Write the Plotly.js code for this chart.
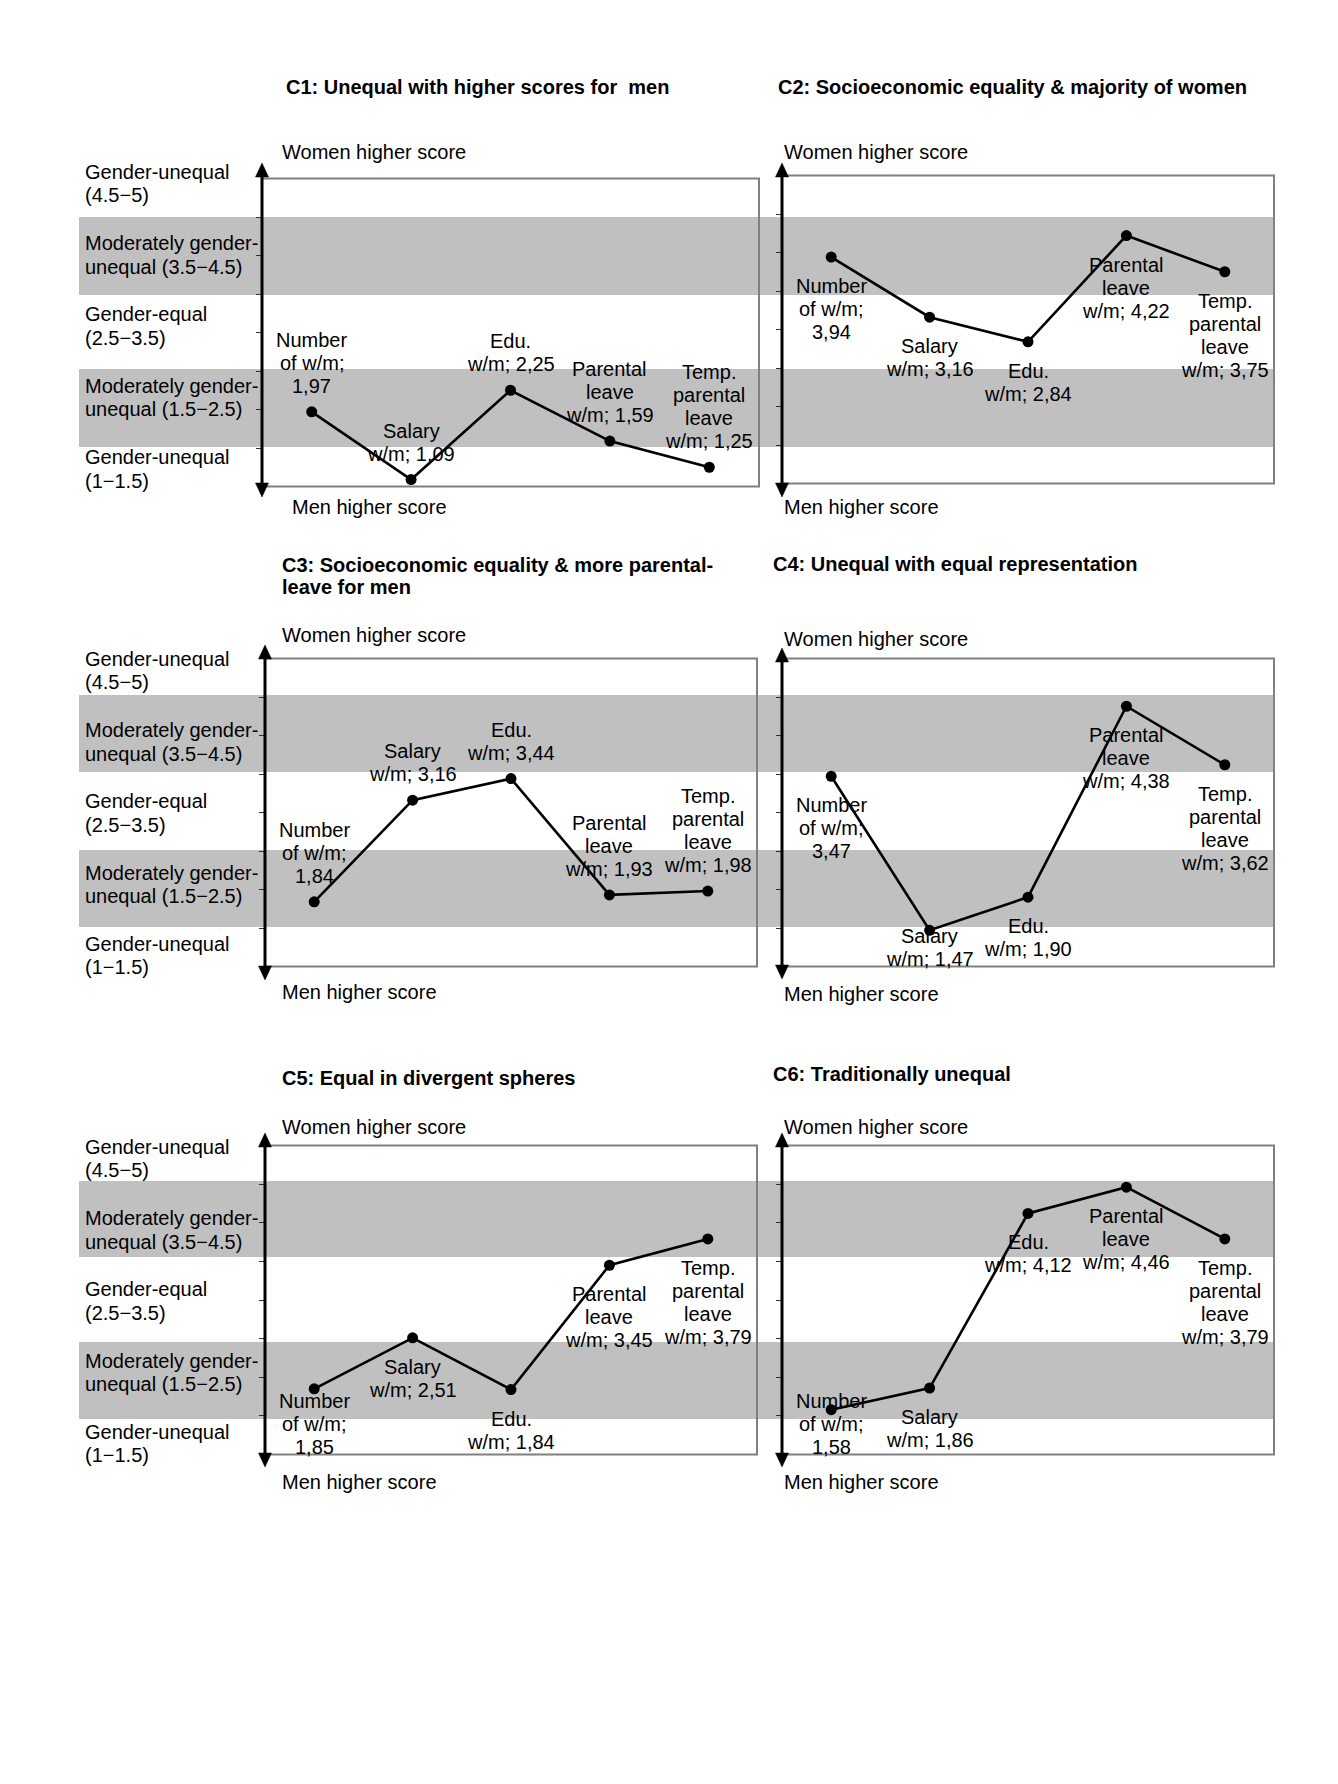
<!DOCTYPE html>
<html>
<head>
<meta charset="utf-8">
<script src="https://cdn.plot.ly/plotly-3.0.1.min.js"></script>
<style>html,body{margin:0;padding:0;background:#fff;}#chart{width:1338px;height:1784px;}</style>
</head>
<body>
<div id="chart"></div>
<script>
// ---------------- DATA ----------------
const categories = ['Number of w/m', 'Salary w/m', 'Edu. w/m', 'Parental leave w/m', 'Temp. parental leave w/m'];
const pointLabelLines = [
  ['Number', 'of w/m;', '{v}'],
  ['Salary', 'w/m; {v}'],
  ['Edu.', 'w/m; {v}'],
  ['Parental', 'leave', 'w/m; {v}'],
  ['Temp.', 'parental', 'leave', 'w/m; {v}']
];
const c1Values = [1.97, 1.09, 2.25, 1.59, 1.25];
const c2Values = [3.94, 3.16, 2.84, 4.22, 3.75];
const c3Values = [1.84, 3.16, 3.44, 1.93, 1.98];
const c4Values = [3.47, 1.47, 1.90, 4.38, 3.62];
const c5Values = [1.85, 2.51, 1.84, 3.45, 3.79];
const c6Values = [1.58, 1.86, 4.12, 4.46, 3.79];
const panelTitles = [
  ['C1: Unequal with higher scores for \u00a0men'],
  ['C2: Socioeconomic equality &amp; majority of women'],
  ['C3: Socioeconomic equality &amp; more parental-', 'leave for men'],
  ['C4: Unequal with equal representation'],
  ['C5: Equal in divergent spheres'],
  ['C6: Traditionally unequal']
];
const zoneLabels = [
  ['Gender-unequal', '(4.5\u22125)'],
  ['Moderately gender-', 'unequal (3.5\u22124.5)'],
  ['Gender-equal', '(2.5\u22123.5)'],
  ['Moderately gender-', 'unequal (1.5\u22122.5)'],
  ['Gender-unequal', '(1\u22121.5)']
];
const yTickVals = [1.5, 2, 2.5, 3, 3.5, 4, 4.5];
const topAxisLabel = 'Women higher score';
const bottomAxisLabel = 'Men higher score';

// ---------------- LAYOUT (pixel geometry) ----------------
const W = 1338, H = 1784;
const FONT = 'Liberation Sans, Arial, Helvetica, sans-serif';
const px = x => x / W;
const py = y => 1 - y / H;
const LS = 23;

const seriesValues = [c1Values, c2Values, c3Values, c4Values, c5Values, c6Values];
const panels = [
  {x0: 262, x1: 759, y0: 178.5, y1: 486.5, tx: 286, ty: [87.5], wx: 282, wy: 152, mx: 292, my: 507, tt: 163, tb: 497, place: 'above'},
  {x0: 782, x1: 1274, y0: 175.5, y1: 483.5, tx: 778, ty: [87.5], wx: 784, wy: 152, mx: 784, my: 507, tt: 163, tb: 497, place: 'below'},
  {x0: 265, x1: 757, y0: 658.5, y1: 966.5, tx: 282, ty: [565, 587], wx: 282, wy: 635, mx: 282, my: 992, tt: 645, tb: 980, place: 'above'},
  {x0: 782, x1: 1274, y0: 658.5, y1: 966.5, tx: 773, ty: [564], wx: 784, wy: 639, mx: 784, my: 994, tt: 648, tb: 979, place: 'below'},
  {x0: 265, x1: 757, y0: 1145.5, y1: 1454.5, tx: 282, ty: [1078], wx: 282, wy: 1127, mx: 282, my: 1482, tt: 1133, tb: 1467, place: 'below'},
  {x0: 782, x1: 1274, y0: 1145.5, y1: 1454.5, tx: 773, ty: [1074], wx: 784, wy: 1127, mx: 784, my: 1482, tt: 1133, tb: 1467, place: 'below'}
];
const rows = [
  {bands: [[217, 295], [369, 447]], labelY: [183.5, 255, 326, 397.5, 469]},
  {bands: [[695, 772], [850, 927]], labelY: [670.5, 742, 813, 884.5, 955.5]},
  {bands: [[1181, 1257], [1342, 1419]], labelY: [1158.5, 1230, 1301, 1372.5, 1443.5]}
];

const layout = {
  width: W, height: H,
  margin: {l: 0, r: 0, t: 0, b: 0},
  paper_bgcolor: '#ffffff',
  plot_bgcolor: 'rgba(0,0,0,0)',
  showlegend: false,
  font: {family: FONT, size: 20, color: '#000'},
  shapes: [],
  annotations: []
};
const traces = [];

function txt(text, x, y, opts) {
  return Object.assign({
    text: text, x: x, y: y, xref: 'paper', yref: 'paper',
    xanchor: 'left', yanchor: 'middle', showarrow: false,
    borderpad: 0, borderwidth: 0,
    font: {family: FONT, size: 20, color: '#000'}
  }, opts || {});
}

// bands and zone labels
rows.forEach(r => {
  r.bands.forEach(b => {
    layout.shapes.push({type: 'rect', xref: 'paper', yref: 'paper', x0: px(79), x1: px(1274), y0: py(b[1]), y1: py(b[0]),
      fillcolor: '#c0c0c0', line: {width: 0}, layer: 'below'});
  });
  r.labelY.forEach((yc, i) => {
    zoneLabels[i].forEach((line, j) => {
      layout.annotations.push(txt(line, px(85), py(yc + (j - 0.5) * 23.5)));
    });
  });
});

panels.forEach((p, k) => {
  const s = k === 0 ? '' : String(k + 1);
  const xref = 'x' + s, yref = 'y' + s;
  layout['xaxis' + s] = {
    domain: [px(p.x0), px(p.x1)], anchor: yref, type: 'category', range: [-0.5, 4.5],
    showgrid: false, zeroline: false, showline: false, showticklabels: false, ticks: '', fixedrange: true
  };
  layout['yaxis' + s] = {
    domain: [py(p.y1), py(p.y0)], anchor: xref, range: [1, 5],
    tickmode: 'array', tickvals: yTickVals, ticks: 'outside', ticklen: 5, tickwidth: 1, tickcolor: '#303030',
    showticklabels: false, showgrid: false, zeroline: false, showline: false, fixedrange: true
  };
  const vals = seriesValues[k];
  traces.push({
    type: 'scatter', mode: 'lines+markers', x: categories, y: vals, xaxis: xref, yaxis: yref,
    line: {color: '#000', width: 2.6}, marker: {color: '#000', size: 11}, cliponaxis: false, hoverinfo: 'skip'
  });
  // frame
  layout.shapes.push({type: 'rect', xref: xref + ' domain', yref: yref + ' domain', x0: 0, x1: 1, y0: 0, y1: 1,
    line: {color: '#808080', width: 2}, fillcolor: 'rgba(0,0,0,0)', layer: 'above'});
  // vertical double arrow
  layout.shapes.push({type: 'line', xref: 'paper', yref: 'paper', x0: px(p.x0), x1: px(p.x0), y0: py(p.tt + 8), y1: py(p.tb - 8),
    line: {color: '#000', width: 3}, layer: 'above'});
  const ax = p.x0;
  layout.shapes.push({type: 'path', xref: 'paper', yref: 'paper', layer: 'above',
    path: `M ${px(ax)},${py(p.tt)} L ${px(ax - 6.5)},${py(p.tt + 14)} L ${px(ax + 6.5)},${py(p.tt + 14)} Z`,
    fillcolor: '#000', line: {color: '#000', width: 0.5}});
  layout.shapes.push({type: 'path', xref: 'paper', yref: 'paper', layer: 'above',
    path: `M ${px(ax)},${py(p.tb)} L ${px(ax - 6.5)},${py(p.tb - 14)} L ${px(ax + 6.5)},${py(p.tb - 14)} Z`,
    fillcolor: '#000', line: {color: '#000', width: 0.5}});
  // titles
  panelTitles[k].forEach((t, j) => {
    layout.annotations.push(txt('<b>' + t + '</b>', px(p.tx), py(p.ty[j])));
  });
  layout.annotations.push(txt(topAxisLabel, px(p.wx), py(p.wy)));
  layout.annotations.push(txt(bottomAxisLabel, px(p.mx), py(p.my)));
  // point labels
  const unit = (p.y1 - p.y0) / 4;
  vals.forEach((v, i) => {
    const vs = v.toFixed(2).replace('.', ',');
    const lines = pointLabelLines[i].map(l => l.replace('{v}', vs));
    const n = lines.length;
    const yPt = p.y0 + (5 - v) * unit;
    let first = p.place === 'below' ? yPt + 29 : yPt - 26 - (n - 1) * LS;
    const last = first + (n - 1) * LS;
    const limit = p.y1 - 7.5;
    if (last > limit) first -= (last - limit);
    lines.forEach((line, j) => {
      const yc = first + j * LS;
      layout.annotations.push({
        text: line, x: i, y: v, xref: xref, yref: yref, xanchor: 'center', yanchor: 'middle',
        yshift: -(yc - yPt), showarrow: false, borderpad: 0, borderwidth: 0,
        font: {family: FONT, size: 20, color: '#000'}
      });
    });
  });
});

Plotly.newPlot('chart', traces, layout, {staticPlot: true, displayModeBar: false});
</script>
</body>
</html>
